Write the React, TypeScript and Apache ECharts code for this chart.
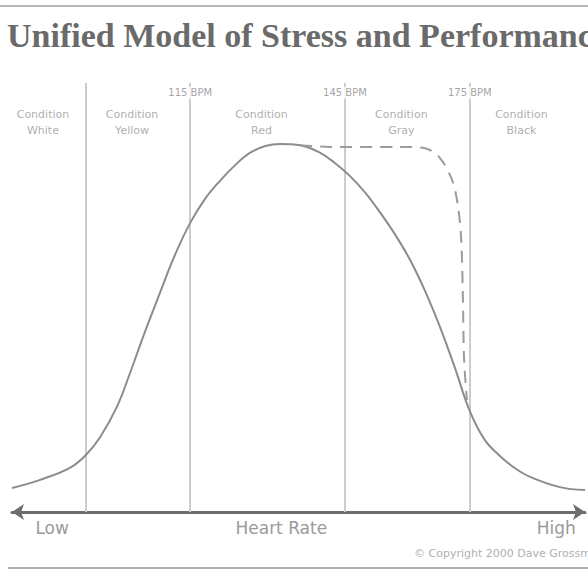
import React, { useEffect, useRef } from "react";
import * as echarts from "echarts";

// Heart-rate position (0 = left end of axis, 100 = right end) and performance (0–100)
const heartRate = [0, 4.9, 10.1, 12.9, 15.4, 18.3, 20.6, 23.2, 25.8, 28.4, 31.1, 33.7, 36.3, 38.9, 41.5, 44.2, 46.8, 50.3, 53.8, 56.4, 59.0, 61.6, 64.2, 66.9, 69.5, 72.1, 74.7, 77.3, 79.9, 82.5, 85.2, 87.8, 90.4, 95.6, 100];
const performance = [5.6, 7.5, 10.3, 13.3, 17.5, 24.5, 32.4, 42.0, 51.0, 59.8, 67.4, 73.0, 77.2, 80.8, 83.7, 85.3, 85.8, 85.5, 83.7, 81.3, 78.3, 74.5, 69.9, 64.6, 58.7, 51.5, 43.1, 33.6, 23.5, 16.8, 13.0, 10.2, 8.2, 5.8, 5.1];

// Dashed "trained" curve
const dashedHeartRate = [50.3, 55.5, 67.7, 72.1, 74.7, 76.8, 77.8, 78.4, 78.7, 78.9, 79.4];
const dashedPerformance = [85.5, 85.1, 85.1, 84.8, 82.5, 77.4, 71.6, 63.4, 49.4, 35.4, 26.1];

// Zone boundaries and their labels
const zoneBoundaries = [12.9, 31.1, 58.1, 79.9];
const bpmLabels = ["", "115 BPM", "145 BPM", "175 BPM"];
const conditionNames = ["White", "Yellow", "Red", "Gray", "Black"];

// Axis labels
const axisTickValues = [7, 47, 95];
const axisTickLabels = ["Low", "Heart Rate", "High"];

const titleText = "Unified Model of Stress and Performance";
const copyrightText = "\u00A9 Copyright 2000 Dave Grossman";

export default function App() {
  const ref = useRef<HTMLDivElement>(null);

  useEffect(() => {
    if (!ref.current) return;
    const chart = echarts.init(ref.current, undefined, { renderer: "svg" });

    const zoneEdges = [0, ...zoneBoundaries, 100];
    const conditionData = conditionNames.map((n, i) => ({
      value: [(zoneEdges[i] + zoneEdges[i + 1]) / 2, 90.9],
      name: "Condition\n" + n,
    }));
    const bpmData = zoneBoundaries
      .map((b, i) => ({ value: [b, 97.7], name: bpmLabels[i] }))
      .filter((d) => d.name !== "");

    const labelFont = '"DejaVu Sans", Verdana, sans-serif';

    chart.setOption({
      animation: false,
      backgroundColor: "#ffffff",
      grid: { left: 12, right: 3, top: 83, bottom: 59 },
      xAxis: {
        type: "value",
        min: 0,
        max: 100,
        axisLine: {
          show: true,
          symbol: ["arrow", "arrow"],
          symbolSize: [12, 12],
          lineStyle: { color: "#6e6e6e", width: 3 },
        },
        axisTick: { show: false },
        splitLine: { show: false },
        axisLabel: {
          customValues: axisTickValues,
          formatter: (v: number) => {
            const i = axisTickValues.indexOf(v);
            return i >= 0 ? axisTickLabels[i] : "";
          },
          color: "#9a9a9a",
          fontFamily: labelFont,
          fontSize: 17,
          margin: 7,
        },
      },
      yAxis: {
        type: "value",
        min: 0,
        max: 100,
        show: false,
      },
      series: [
        {
          type: "line",
          data: heartRate.map((x, i) => [x, performance[i]]),
          smooth: 0.4,
          showSymbol: false,
          lineStyle: { color: "#8c8c8c", width: 2 },
          z: 3,
          markLine: {
            silent: true,
            symbol: "none",
            label: { show: false },
            lineStyle: { color: "#cccccc", width: 2, type: "solid" },
            data: zoneBoundaries.map((b) => ({ xAxis: b })),
            z: 1,
          },
        },
        {
          type: "line",
          data: dashedHeartRate.map((x, i) => [x, dashedPerformance[i]]),
          smooth: 0.3,
          showSymbol: false,
          lineStyle: { color: "#9c9c9c", width: 2, type: [12, 8] },
          z: 3,
        },
        {
          type: "scatter",
          data: bpmData,
          symbolSize: 0,
          silent: true,
          z: 4,
          label: {
            show: true,
            position: "inside",
            formatter: (p: any) => p.name,
            color: "#8c8c8c",
            fontFamily: labelFont,
            fontSize: 10,
            backgroundColor: "#ffffff",
            padding: [1, 2],
          },
        },
        {
          type: "scatter",
          data: conditionData,
          symbolSize: 0,
          silent: true,
          z: 4,
          label: {
            show: true,
            position: "inside",
            offset: [-6, 0],
            formatter: (p: any) => p.name,
            color: "#999999",
            fontFamily: labelFont,
            fontSize: 11,
            lineHeight: 16,
            align: "center",
          },
        },
      ],
      graphic: [
        { type: "rect", shape: { x: 0, y: 5, width: 588, height: 2 }, style: { fill: "#b8b8b8" } },
        {
          type: "text",
          x: 7,
          y: 18,
          style: {
            text: titleText,
            font: 'bold 34px "Liberation Serif", "Times New Roman", serif',
            fill: "#6a6a6a",
          },
        },
        {
          type: "text",
          x: 414,
          y: 548,
          style: {
            text: copyrightText,
            font: '11px "DejaVu Sans", Verdana, sans-serif',
            fill: "#b0b0b0",
          },
        },
        { type: "rect", shape: { x: 8, y: 567, width: 580, height: 2 }, style: { fill: "#b0b0b0" } },
      ],
    });

    return () => chart.dispose();
  }, []);

  return (
    <div
      ref={ref}
      style={{ position: "fixed", left: 0, top: 0, width: 588, height: 571, background: "#fff" }}
    />
  );
}
